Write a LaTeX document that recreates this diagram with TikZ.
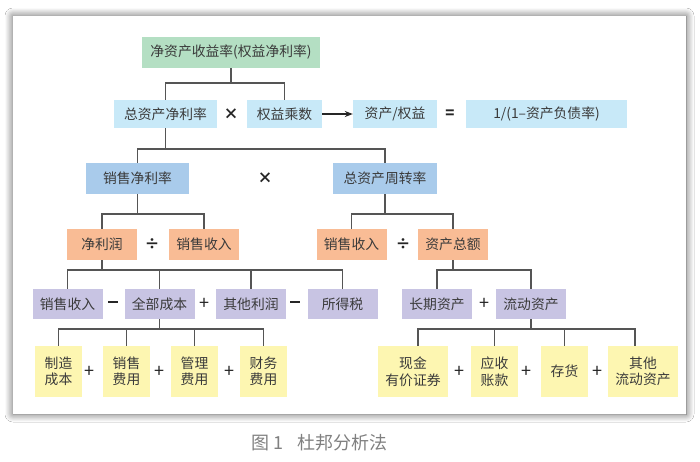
\documentclass[tikz,border=0pt]{standalone}
\usepackage{fontspec}
\setmainfont{Noto Sans CJK SC}
\usetikzlibrary{shadows.blur,arrows.meta}
\definecolor{cgreen}{HTML}{B4DFC3}
\definecolor{clblue}{HTML}{C8E9F8}
\definecolor{cmblue}{HTML}{A9CBEB}
\definecolor{corange}{HTML}{F9BC95}
\definecolor{cpurple}{HTML}{C8C4E3}
\definecolor{cyellow}{HTML}{FDF6B1}
\definecolor{ctext}{HTML}{3A3A3A}
\definecolor{cline}{HTML}{555555}
\definecolor{ccap}{HTML}{808080}
\newcommand{\opminus}{\rule[4.5pt]{10pt}{1.9pt}}
\tikzset{
  box/.style={inner sep=0pt, text=ctext, font=\fontsize{13.8}{16.5}\selectfont, align=center},
  bgreen/.style={box, fill=cgreen},
  blblue/.style={box, fill=clblue, minimum height=28pt},
  bmblue/.style={box, fill=cmblue, minimum height=31pt},
  borange/.style={box, fill=corange, minimum height=31pt, minimum width=70pt},
  bpurple/.style={box, fill=cpurple, minimum height=30pt, minimum width=70pt},
  byellow/.style={box, fill=cyellow, minimum height=51pt, minimum width=47pt},
  op/.style={inner sep=0pt, text=black!85, font=\fontsize{15}{15}\bfseries\selectfont},
  opp/.style={inner sep=0pt, text=black!85, font=\fontsize{18}{18}\selectfont},
  link/.style={draw=cline, line width=1.1pt},
}
\begin{document}
\begin{tikzpicture}[x=1pt,y=-1pt]
\useasboundingbox (0,0) rectangle (700,461);
\fill[white] (0,0) rectangle (700,461);
% card with shadow
\fill[white, blur shadow={shadow xshift=0pt, shadow yshift=0pt, shadow blur radius=8pt, shadow blur steps=14, shadow opacity=65, shadow blur extra rounding=0pt}] (13,16) rectangle (686,414);
% caption
\node[text=ccap, font=\fontsize{18}{18}\selectfont, anchor=west, inner sep=0pt] (cap) at (251,443) {图 1\hspace{14pt}杜邦分析法};

% row 1
\node[bgreen, minimum width=178pt, minimum height=31pt] (root) at (231,52.5) {净资产收益率(权益净利率)};
% row 2
\node[blblue, minimum width=103pt] (zzc) at (165.5,114) {总资产净利率};
\node[op] (x1) at (231,114) {×};
\node[blblue, minimum width=75pt] (qycs) at (284.5,114) {权益乘数};
\node[blblue, minimum width=84pt] (zcqy) at (395,114) {资产/权益};
\node[op] (eq) at (450,114) {=};
\node[blblue, minimum width=161pt] (fzl) at (546.5,114) {1/(1–资产负债率)};
% row 3
\node[bmblue, minimum width=103pt] (xsjl) at (137.5,178.5) {销售净利率};
\node[op] (x2) at (265,178.5) {×};
\node[bmblue, minimum width=104pt] (zzzl) at (385,178.5) {总资产周转率};
% row 4
\node[borange] (jlr) at (102,244.5) {净利润};
\node[op] (d1) at (152,244.5) {÷};
\node[borange] (xssr1) at (204,244.5) {销售收入};
\node[borange] (xssr2) at (351.5,244.5) {销售收入};
\node[op] (d2) at (403,244.5) {÷};
\node[borange] (zcze) at (453,244.5) {资产总额};
% row 5
\node[bpurple] (xssr3) at (67.5,304) {销售收入};
\node[op] (m1) at (113,304) {\opminus};
\node[bpurple] (qbcb) at (159.5,304) {全部成本};
\node[opp] (p1) at (204,304) {+};
\node[bpurple] (qtlr) at (251,304) {其他利润};
\node[op] (m2) at (295,304) {\opminus};
\node[bpurple] (sds) at (342.5,304) {所得税};
\node[bpurple] (cqzc) at (437,304) {长期资产};
\node[opp] (p2) at (484,304) {+};
\node[bpurple] (ldzc) at (531,304) {流动资产};
% row 6
\node[byellow] (zzcb) at (58.5,371.5) {制造\\成本};
\node[opp] (p3) at (89,371.5) {+};
\node[byellow] (xsfy) at (126.5,371.5) {销售\\费用};
\node[opp] (p4) at (159,371.5) {+};
\node[byellow] (glfy) at (194.5,371.5) {管理\\费用};
\node[opp] (p5) at (229,371.5) {+};
\node[byellow] (cwfy) at (263.5,371.5) {财务\\费用};
\node[byellow, minimum width=70pt] (xj) at (413,371.5) {现金\\有价证券};
\node[opp] (p6) at (459,371.5) {+};
\node[byellow] (yszk) at (494.5,371.5) {应收\\账款};
\node[opp] (p7) at (526,371.5) {+};
\node[byellow] (ch) at (564.5,371.5) {存货};
\node[opp] (p8) at (597,371.5) {+};
\node[byellow, minimum width=70pt] (qtld) at (643,371.5) {其他\\流动资产};

% connectors
\draw[link] (root.south) |- (165.5,83) -| (zzc.north);
\draw[link] (root.south) |- (284.5,83) -| (qycs.north);
\draw[-{Stealth[length=8pt,width=6pt]}, line width=1.1pt, draw=black!85] (qycs.east) -- (zcqy.west);

\draw[link] (zzc.south) |- (137.5,149) -| (xsjl.north);
\draw[link] (zzc.south) |- (385,149) -| (zzzl.north);

\draw[link] (xsjl.south) |- (102,214) -| (jlr.north);
\draw[link] (xsjl.south) |- (204,214) -| (xssr1.north);
\draw[link] (zzzl.south) |- (351.5,214) -| (xssr2.north);
\draw[link] (zzzl.south) |- (453,214) -| (zcze.north);

\draw[link] (jlr.south) |- (67.5,270) -| (xssr3.north);
\draw[link] (jlr.south) |- (342.5,270) -| (sds.north);
\draw[link] (qbcb.north) -- (qbcb.north |- 0,270);
\draw[link] (qtlr.north) -- (qtlr.north |- 0,270);
\draw[link] (zcze.south) |- (437,270) -| (cqzc.north);
\draw[link] (zcze.south) |- (531,270) -| (ldzc.north);

\draw[link] (qbcb.south) |- (58.5,329) -| (zzcb.north);
\draw[link] (qbcb.south) |- (263.5,329) -| (cwfy.north);
\draw[link] (xsfy.north) -- (xsfy.north |- 0,329);
\draw[link] (glfy.north) -- (glfy.north |- 0,329);
\draw[link] (ldzc.south) |- (418,329) -- ([xshift=5pt]xj.north);
\draw[link] (ldzc.south) |- (635,329) -- ([xshift=-8pt]qtld.north);
\draw[link] (yszk.north) -- (yszk.north |- 0,329);
\draw[link] (ch.north) -- (ch.north |- 0,329);
\end{tikzpicture}
\end{document}
